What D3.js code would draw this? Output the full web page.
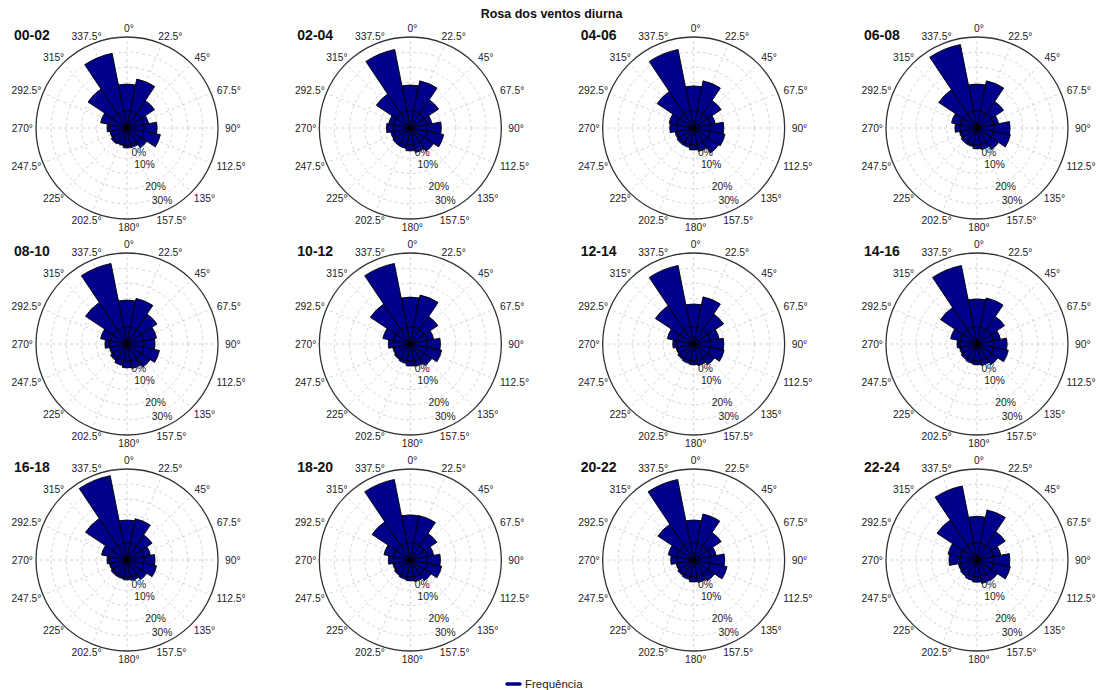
<!DOCTYPE html>
<html><head><meta charset="utf-8">
<script src="https://cdn.jsdelivr.net/npm/d3@7"></script>
<style>body{margin:0;background:#fff;} text{font-family:"Liberation Sans",Arial,sans-serif;}</style>
</head><body>
<svg id="chart" width="1103" height="690"></svg>
<script>
// ---------- data ----------
const chartTitle = "Rosa dos ventos diurna";
const legendLabel = "Frequência";
const directions = [0,22.5,45,67.5,90,112.5,135,157.5,180,202.5,225,247.5,270,292.5,315,337.5];
const dirLabels = directions.map(d => d + "°");
const periods = ["00-02","02-04","04-06","06-08","08-10","10-12","12-14","14-16","16-18","18-20","20-22","22-24"];
const radialTicks = [0,10,20,30];
const radialTickLabels = ["0%","10%","20%","30%"];
// frequency (%) per direction, one array per period
const f0002 = [11.7,14.3,7.0,2.2,5.7,7.4,3.0,1.3,1.3,0.4,0.9,0.2,1.3,4.3,13.0,25.7];
const f0204 = [11.3,13.5,7.4,2.2,6.1,7.4,4.8,3.5,2.6,1.7,1.7,1.3,3.0,2.2,10.4,27.4];
const f0406 = [10.9,13.5,7.0,2.2,5.7,6.5,5.7,3.0,2.2,1.3,1.3,0.9,3.0,3.5,11.7,27.4];
const f0608 = [11.7,13.5,6.5,2.2,7.0,7.4,3.9,2.2,1.7,0.9,0.9,0.4,2.2,3.9,12.6,29.6];
const f0810 = [11.7,12.8,8.3,5.7,4.8,7.0,4.8,3.5,3.0,2.2,1.3,0.4,2.2,4.3,14.3,28.3];
const f1012 = [13.0,14.3,7.0,3.0,5.7,6.5,3.9,2.6,2.2,1.3,0.9,0.4,2.2,4.8,13.5,28.3];
const f1214 = [10.0,13.5,8.3,3.9,5.7,6.1,3.5,2.2,1.7,1.3,0.9,0.4,1.7,4.3,12.6,27.4];
const f1416 = [12.2,13.0,7.0,3.0,5.7,6.5,3.5,2.2,1.7,1.3,0.9,0.4,1.3,4.3,11.7,27.4];
const f1618 = [10.0,10.9,5.7,3.0,4.8,5.7,3.0,1.7,1.3,0.9,0.9,0.4,1.3,3.9,14.3,30.0];
const f1820 = [12.2,12.2,6.5,3.0,5.7,6.5,3.5,2.2,1.7,1.3,0.9,0.4,2.2,4.3,12.6,28.3];
const f2022 = [10.0,13.0,7.0,2.6,6.1,7.4,3.5,2.6,2.2,1.3,0.9,0.4,2.6,3.9,11.3,28.3];
const f2224 = [11.6,14.8,7.4,3.2,6.9,7.4,3.3,3.0,2.3,1.7,1.2,0.9,4.8,5.4,13.5,25.4];
const seriesByPeriod = [f0002,f0204,f0406,f0608,f0810,f1012,f1214,f1416,f1618,f1820,f2022,f2224];

// ---------- layout ----------
const svg = d3.select("#chart");
const W = 1103, H = 690;
const R = 91, rZero = 17;
const barColor = "#00008B";
const colX = d3.scaleLinear().domain([0,3]).range([127,977]);
const rowY = d3.scaleLinear().domain([0,2]).range([128,560]);
const rScale = d3.scaleLinear().domain([0,32]).range([rZero, rZero + 32*2.3]);
const labelR = d3.scaleLinear().domain([0,10,20,30]).range([27,40,65,80]);
const sector = 2*Math.PI/directions.length;
const rad = d => d*Math.PI/180;
const arc = d3.arc();

svg.append("text").attr("x", W/2).attr("y", 18).attr("text-anchor","middle")
  .attr("font-size", 12.5).attr("font-weight","bold").attr("fill","#111").text(chartTitle);

periods.forEach((p, i) => {
  const col = i % 4, row = Math.floor(i/4);
  const cx = colX(col), cy = rowY(row);
  const g = svg.append("g").attr("transform", `translate(${cx},${cy})`);
  // grid rings
  d3.range(1,6).forEach(k => {
    g.append("circle").attr("r", R*k/6).attr("fill","none")
      .attr("stroke","#cfcfcf").attr("stroke-width",0.9).attr("stroke-dasharray","3,3");
  });
  // radial grid
  directions.forEach(d => {
    const a = rad(d);
    g.append("line").attr("x1",0).attr("y1",0)
      .attr("x2", R*Math.sin(a)).attr("y2", -R*Math.cos(a))
      .attr("stroke","#cfcfcf").attr("stroke-width",0.9).attr("stroke-dasharray","3,3");
  });
  // bars
  const vals = seriesByPeriod[i];
  directions.forEach((d, j) => {
    const a0 = rad(d) - sector/2, a1 = rad(d) + sector/2;
    g.append("path").attr("d", arc({innerRadius: rScale(0), outerRadius: rScale(vals[j]), startAngle:a0, endAngle:a1}))
      .attr("fill", barColor).attr("stroke","#000").attr("stroke-width",0.9);
    g.append("path").attr("d", arc({innerRadius: 0, outerRadius: rScale(0), startAngle:a0, endAngle:a1}))
      .attr("fill", barColor).attr("stroke","#000").attr("stroke-width",0.9);
  });
  // outer circle
  g.append("circle").attr("r", R).attr("fill","none").attr("stroke","#333").attr("stroke-width",1.3);
  // angular labels
  directions.forEach((d, j) => {
    const a = rad(d);
    const s = Math.sin(a), c = Math.cos(a);
    const t = g.append("text").attr("font-size",10.3).attr("fill","#222").attr("text-anchor","middle").text(dirLabels[j]);
    const w = t.node().getComputedTextLength();
    const lr = 96;
    t.attr("x", lr*s + s*w/2 + 2).attr("y", -lr*c).attr("dy", (0.35*(1 - c)) + "em");
  });
  // radial labels
  const ra = rad(154);
  radialTicks.forEach((v, j) => {
    g.append("text").attr("font-size",10.3).attr("fill","#222").attr("text-anchor","middle")
      .attr("x", labelR(v)*Math.sin(ra)).attr("y", -labelR(v)*Math.cos(ra)).attr("dy","0.35em")
      .text(radialTickLabels[j]);
  });
  // panel title
  g.append("text").attr("x", -113).attr("y", -88).attr("font-size",14).attr("font-weight","bold")
    .attr("fill","#111").text(p);
});

// legend
const lg = svg.append("g");
lg.append("line").attr("x1",507).attr("x2",520).attr("y1",684).attr("y2",684)
  .attr("stroke",barColor).attr("stroke-width",3.5).attr("stroke-linecap","round");
lg.append("text").attr("x",525).attr("y",688).attr("font-size",11.5).attr("fill","#222").text(legendLabel);
</script>
</body></html>
